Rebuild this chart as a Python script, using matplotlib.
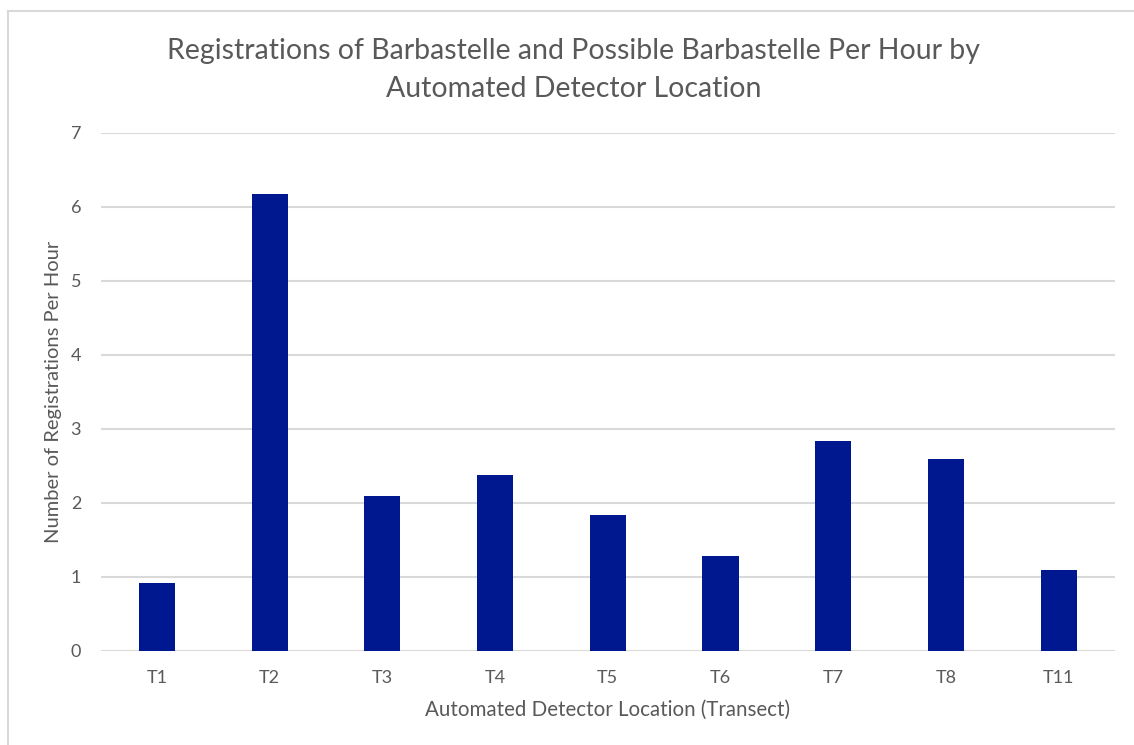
import matplotlib.pyplot as plt
from matplotlib.lines import Line2D

transects = ['T1', 'T2', 'T3', 'T4', 'T5', 'T6', 'T7', 'T8', 'T11']
regs_per_hour = [0.92, 6.17, 2.10, 2.38, 1.84, 1.28, 2.84, 2.60, 1.10]

plt.rcParams['font.family'] = ['Lato', 'DejaVu Sans']
grey = '#595959'

fig = plt.figure(figsize=(11.34, 7.45), dpi=100)
ax = fig.add_axes([0.0887, 0.1262, 0.8945, 0.6953])

ax.bar(transects, regs_per_hour, width=0.32, color='#00188F', zorder=3)

ax.set_xlim(-0.5, len(transects) - 0.5)
ax.set_ylim(0, 7)
ax.set_yticks(range(0, 8))
ax.grid(axis='y', color='#D9D9D9', linewidth=1.5, zorder=0)
for s in ax.spines.values():
    s.set_visible(False)
ax.tick_params(length=0, labelsize=13, colors=grey, pad=14)
ax.tick_params(axis='y', pad=14)

ax.set_xlabel('Automated Detector Location (Transect)', fontsize=14.8, color=grey, labelpad=10)
ax.set_ylabel('Number of Registrations Per Hour', fontsize=14.5, color=grey, labelpad=6)

fig.text(0.506, 0.906, 'Registrations of Barbastelle and Possible Barbastelle Per Hour by\nAutomated Detector Location',
         ha='center', va='center', fontsize=20.5, color=grey, linespacing=1.55)

# chart frame (only top/left edges are inside the crop)
fig.add_artist(Line2D([8 / 1134, 8 / 1134], [0, 1 - 11 / 745], color='#D9D9D9', lw=1.5))
fig.add_artist(Line2D([8 / 1134, 1], [1 - 11 / 745, 1 - 11 / 745], color='#D9D9D9', lw=1.5))

fig.savefig('out.png', dpi=100)
